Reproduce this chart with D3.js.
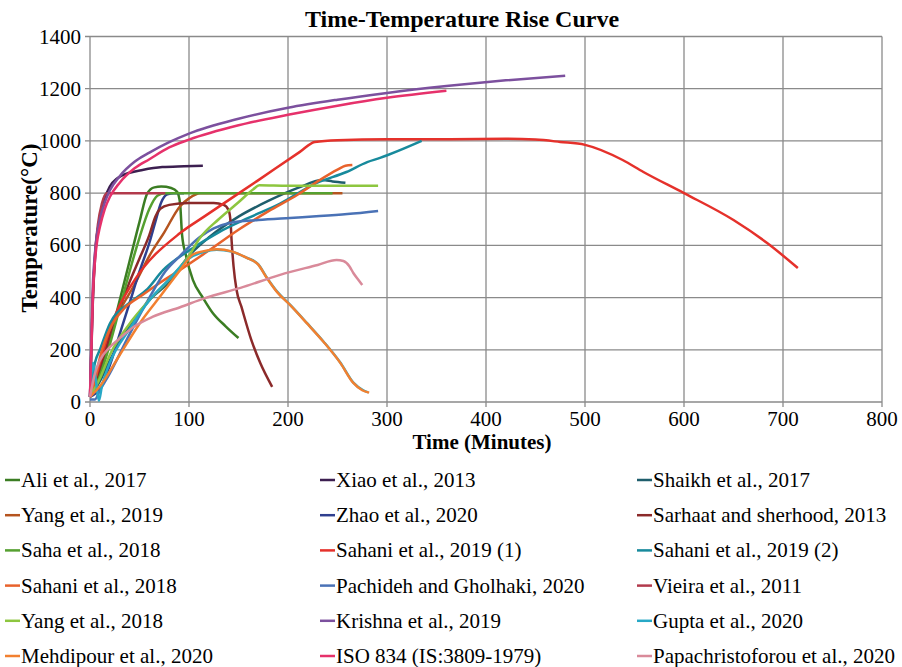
<!DOCTYPE html>
<html>
<head>
<meta charset="utf-8">
<script src="https://d3js.org/d3.v7.min.js"></script>
<style>
  body { margin: 0; background: #fff; }
</style>
</head>
<body>
<svg id="chart" width="902" height="667"></svg>
<script>
// [minutes, °C] pairs, series in legend order
var ali2017 = [[0,20],[10,120],[20,240],[30,390],[40,540],[50,690],[58,800],[65,822],[72,825],[82,820],[88,805],[91,760],[93,640],[97,560],[104,467],[114,400],[124,341],[137,290],[150,245]]
var xiao2013 = [[0,20],[3,400],[6,600],[10,700],[15,780],[20,825],[28,858],[40,878],[53,889],[73,900],[95,903],[114,905]]
var shaikh2017 = [[0,20],[10,80],[20,160],[40,290],[60,390],[80,460],[100,560],[120,630],[150,710],[180,770],[210,820],[235,850],[245,845],[258,840]]
var yang2019 = [[0,20],[10,150],[20,270],[30,350],[45,450],[60,560],[75,650],[91,750],[100,780],[111,800],[150,800],[200,800],[255,800]]
var zhao2020 = [[0,20],[10,50],[20,140],[30,260],[40,380],[50,500],[60,610],[66,690],[72,765],[78,795],[85,800],[95,800]]
var sarhaat2013 = [[0,20],[10,130],[20,250],[30,360],[40,460],[50,550],[60,640],[66,710],[71,740],[80,755],[100,762],[125,762],[135,755],[140,735],[142,690],[143,620],[145,520],[148,430],[153,364],[163,237],[172,149],[184,58]]
var saha2018 = [[0,20],[10,100],[20,220],[30,360],[40,500],[50,630],[60,740],[68,790],[76,800],[120,800],[180,800],[245,800]]
var sahani2019a = [[0,20],[10,150],[20,280],[30,370],[45,467],[91,647],[116,712],[169,847],[212,958],[227,996],[250,1003],[300,1006],[364,1006],[420,1008],[450,1005],[475,996],[500,985],[538,927],[559,881],[600,800],[650,697],[684,609],[715,513]]
var sahani2019b = [[0,20],[5,150],[10,200],[20,300],[40,380],[57,429],[74,506],[100,580],[130,650],[160,705],[192,760],[229,839],[259,881],[280,919],[293,935],[335,1000]]
var sahani2018 = [[0,20],[5,84],[10,170],[22,295],[35,360],[53,410],[70,455],[91,506],[120,580],[150,660],[180,730],[210,795],[232,850],[250,890],[258,905],[265,908]]
var pachideh2020 = [[0,10],[5,10],[10,45],[20,110],[40,260],[60,400],[76,500],[91,560],[111,632],[125,665],[141,686],[170,697],[202,705],[232,712],[260,720],[291,732]]
var vieira2011 = [[0,20],[2,300],[5,560],[8,680],[12,760],[17,800],[40,800],[76,800]]
var yang2018 = [[0,20],[10,90],[20,180],[40,300],[60,390],[80,470],[100,560],[111,628],[130,700],[150,765],[165,815],[171,830],[200,828],[250,828],[291,828]]
var krishna2019 = [[0,20],[3,460],[5,570],[7,640],[10,700],[15,765],[20,810],[30,865],[45,920],[60,955],[80,995],[100,1028],[150,1085],[200,1127],[250,1158],[300,1184],[360,1210],[420,1232],[480,1250]]
var gupta2020 = [[0,20],[3,150],[6,80],[9,5],[12,60],[20,150],[40,280],[60,390],[80,470],[100,550],[115,575],[128,583],[143,576],[158,553],[170,527],[178,480],[189,423],[202,373],[219,303],[236,231],[253,150],[266,74],[276,45],[281,37]]
var mehdipour2020 = [[0,20],[10,60],[30,180],[50,300],[70,400],[90,500],[104,565],[115,578],[128,585],[143,577],[158,553],[170,526],[178,479],[189,421],[202,372],[219,302],[236,230],[253,149],[266,73],[275,45],[282,36]]
var iso834 = [[0,20],[3,420],[5,540],[7,610],[10,670],[15,740],[20,785],[30,840],[45,895],[60,930],[80,975],[100,1005],[150,1060],[200,1100],[250,1135],[300,1165],[360,1192]]
var papachristoforou2020 = [[0,20],[5,110],[10,160],[20,210],[28,237],[45,290],[63,326],[91,363],[116,398],[152,437],[192,487],[230,525],[249,544],[256,540],[262,520],[266,494],[271,468],[275,448]]

var seriesData = [ali2017, xiao2013, shaikh2017, yang2019, zhao2020, sarhaat2013, saha2018, sahani2019a, sahani2019b,
  sahani2018, pachideh2020, vieira2011, yang2018, krishna2019, gupta2020, mehdipour2020, iso834, papachristoforou2020]
var seriesNames = ['Ali et al., 2017', 'Xiao et al., 2013', 'Shaikh et al., 2017',
  'Yang et al., 2019', 'Zhao et al., 2020', 'Sarhaat and sherhood, 2013',
  'Saha et al., 2018', 'Sahani et al., 2019 (1)', 'Sahani et al., 2019 (2)',
  'Sahani et al., 2018', 'Pachideh and Gholhaki, 2020', 'Vieira et al., 2011',
  'Yang et al., 2018', 'Krishna et al., 2019', 'Gupta et al., 2020',
  'Mehdipour et al., 2020', 'ISO 834 (IS:3809-1979)', 'Papachristoforou et al., 2020']
var seriesColors = ['#3b7d23', '#3c1f50', '#1f5e6c', '#b5541f', '#2f3f8f', '#8b2a2a',
  '#55a030', '#e5312b', '#178a9c', '#e8622c', '#4a72b6', '#b23a4c',
  '#8dc63f', '#7c509e', '#27a8c6', '#f28030', '#e6316b', '#d98a9a']

var xTicks = [0, 100, 200, 300, 400, 500, 600, 700, 800]
var yTicks = [0, 200, 400, 600, 800, 1000, 1200, 1400]

var svg = d3.select('#chart')
  .attr('font-family', '"Liberation Serif", "Times New Roman", serif')
var x = d3.scaleLinear().domain([0, 800]).range([90, 882])
var y = d3.scaleLinear().domain([0, 1400]).range([402, 36.5])

// grid
var grid = svg.append('g').attr('stroke', '#8a8a8a').attr('stroke-width', 1.3)
grid.selectAll('.hg').data(yTicks).enter().append('line')
  .attr('x1', x(0) - 5).attr('x2', x(800))
  .attr('y1', function (d) { return y(d) }).attr('y2', function (d) { return y(d) })
grid.selectAll('.vg').data(xTicks).enter().append('line')
  .attr('y1', y(1400)).attr('y2', y(0) + 5)
  .attr('x1', function (d) { return x(d) }).attr('x2', function (d) { return x(d) })

// tick labels
svg.append('g').selectAll('text').data(yTicks).enter().append('text')
  .attr('x', 81).attr('y', function (d) { return y(d) + 7 })
  .attr('text-anchor', 'end').attr('font-size', 21)
  .text(function (d) { return d })
svg.append('g').selectAll('text').data(xTicks).enter().append('text')
  .attr('x', function (d) { return x(d) }).attr('y', 426)
  .attr('text-anchor', 'middle').attr('font-size', 21)
  .text(function (d) { return d })

// lines
var line = d3.line()
  .x(function (d) { return x(d[0]) })
  .y(function (d) { return y(d[1]) })
  .curve(d3.curveMonotoneX)
svg.append('g').selectAll('path').data(seriesData).enter().append('path')
  .attr('fill', 'none')
  .attr('stroke-width', 2.5)
  .attr('stroke-linejoin', 'round')
  .attr('stroke', function (d, i) { return seriesColors[i] })
  .attr('d', line)

// titles
svg.append('text').attr('x', 462).attr('y', 27).attr('text-anchor', 'middle')
  .attr('font-size', 24).attr('font-weight', 'bold').text('Time-Temperature Rise Curve')
svg.append('text').attr('x', 482).attr('y', 449).attr('text-anchor', 'middle')
  .attr('font-size', 21).attr('font-weight', 'bold').text('Time (Minutes)')
svg.append('text').attr('transform', 'translate(37,228) rotate(-90)').attr('text-anchor', 'middle')
  .attr('font-size', 23).attr('font-weight', 'bold').text('Temperature(°C)')

// legend
var legendCols = [5, 320, 637]
var legend = svg.append('g').selectAll('g').data(seriesNames).enter().append('g')
  .attr('transform', function (d, i) {
    return 'translate(' + legendCols[i % 3] + ',' + (480 + Math.floor(i / 3) * 35.2) + ')'
  })
legend.append('line').attr('x1', 0).attr('x2', 15).attr('y1', 0).attr('y2', 0)
  .attr('stroke-width', 2.5)
  .attr('stroke', function (d, i) { return seriesColors[i] })
legend.append('text').attr('x', 16).attr('y', 7).attr('font-size', 21)
  .text(function (d) { return d })
</script>
</body>
</html>
